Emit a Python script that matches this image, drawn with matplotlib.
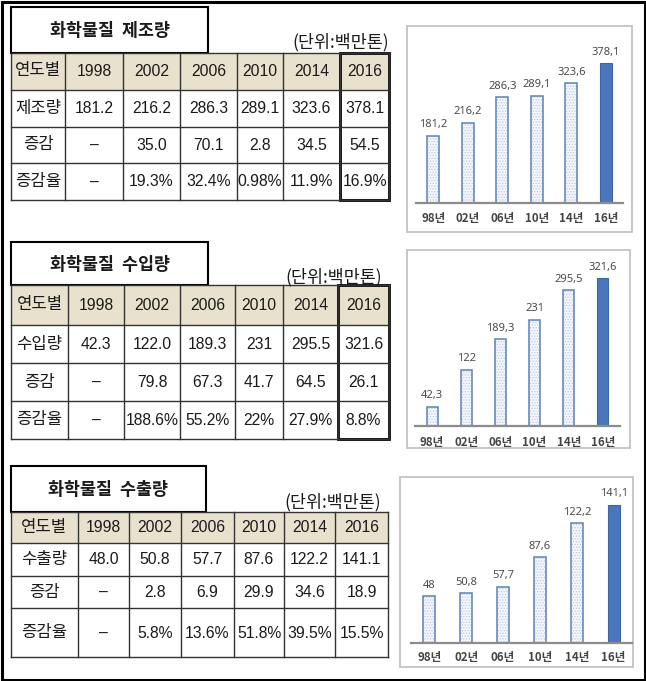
import matplotlib
matplotlib.use("Agg")
import matplotlib.pyplot as plt
from matplotlib.patches import Rectangle
from matplotlib import font_manager

plt.rcParams['hatch.linewidth'] = 0.6

# ---------------- data ----------------
years = ["1998", "2002", "2006", "2010", "2014", "2016"]
short_years = ["98년", "02년", "06년", "10년", "14년", "16년"]

title1 = "화학물질  제조량"
title2 = "화학물질  수입량"
title3 = "화학물질  수출량"
unit_label = "(단위:백만톤)"
row_head = "연도별"
row_labels1 = ["제조량", "증감", "증감율"]
row_labels2 = ["수입량", "증감", "증감율"]
row_labels3 = ["수출량", "증감", "증감율"]

production = [181.2, 216.2, 286.3, 289.1, 323.6, 378.1]
imports = [42.3, 122.0, 189.3, 231, 295.5, 321.6]
exports = [48.0, 50.8, 57.7, 87.6, 122.2, 141.1]

prod_text = ["181.2", "216.2", "286.3", "289.1", "323.6", "378.1"]
prod_change = ["–", "35.0", "70.1", "2.8", "34.5", "54.5"]
prod_rate = ["–", "19.3%", "32.4%", "0.98%", "11.9%", "16.9%"]

imp_text = ["42.3", "122.0", "189.3", "231", "295.5", "321.6"]
imp_change = ["–", "79.8", "67.3", "41.7", "64.5", "26.1"]
imp_rate = ["–", "188.6%", "55.2%", "22%", "27.9%", "8.8%"]

exp_text = ["48.0", "50.8", "57.7", "87.6", "122.2", "141.1"]
exp_change = ["–", "2.8", "6.9", "29.9", "34.6", "18.9"]
exp_rate = ["–", "5.8%", "13.6%", "51.8%", "39.5%", "15.5%"]

# ---------------- fonts ----------------
avail = {f.name for f in font_manager.fontManager.ttflist}
KR = "Noto Sans CJK KR"
NUM = ["Liberation Sans Narrow", KR] if "Liberation Sans Narrow" in avail else ["Liberation Sans", KR]
num_size = 13 if "Liberation Sans Narrow" in avail else 11.3

W, H = 646, 681
fig = plt.figure(figsize=(W / 100, H / 100), dpi=100)
bg = fig.add_axes([0, 0, 1, 1], zorder=0)
bg.set_xlim(0, W)
bg.set_ylim(H, 0)
bg.axis("off")

# outer border
bg.add_patch(Rectangle((1.5, 1.5), W - 3, H - 3, fill=False, ec="black", lw=2.2))

HEAD_FC = "#E8E1CD"


def draw_table(cols, rows, title_box, unit_xy, title, labels, body, thick_last):
    # title box
    tx0, ty0, tx1, ty1 = title_box
    bg.add_patch(Rectangle((tx0, ty0), tx1 - tx0, ty1 - ty0, fill=False, ec="black", lw=1.5))
    bg.text((tx0 + tx1) / 2, (ty0 + ty1) / 2 + 1, title, ha="center", va="center",
            family=[KR], fontsize=12.5, weight="bold", color="#1a1a1a")
    bg.text(unit_xy[0], unit_xy[1], unit_label, ha="right", va="center",
            family=[KR], fontsize=12.5, color="#1a1a1a")
    # header fill
    bg.add_patch(Rectangle((cols[0], rows[0]), cols[-1] - cols[0], rows[1] - rows[0],
                           fc=HEAD_FC, ec="none"))
    # grid lines
    for y in rows:
        bg.plot([cols[0], cols[-1]], [y, y], color="#333333", lw=1.0)
    for x in cols:
        bg.plot([x, x], [rows[0], rows[-1]], color="#333333", lw=1.0)
    if thick_last:
        bg.add_patch(Rectangle((cols[-2], rows[0]), cols[-1] - cols[-2], rows[-1] - rows[0],
                               fill=False, ec="black", lw=2.0))
    all_labels = [row_head] + labels
    all_body = [years] + body
    for r in range(4):
        cy = (rows[r] + rows[r + 1]) / 2
        bg.text((cols[0] + cols[1]) / 2, cy, all_labels[r], ha="center", va="center",
                family=[KR], fontsize=12, color="#1a1a1a")
        for c in range(6):
            cx = (cols[c + 1] + cols[c + 2]) / 2
            bg.text(cx, cy + 0.5, all_body[r][c], ha="center", va="center",
                    family=NUM, fontsize=num_size, color="#1a1a1a")


draw_table([11, 65, 123, 180, 237, 283, 340, 389], [52.5, 89.5, 127, 163, 200],
           (11, 7, 208, 52.5), (389, 42), title1, row_labels1,
           [prod_text, prod_change, prod_rate], True)
draw_table([11, 68, 124, 180, 235, 283, 338, 389], [285, 325, 363, 401, 438.5],
           (11, 242, 208, 285), (382, 277), title2, row_labels2,
           [imp_text, imp_change, imp_rate], True)
draw_table([11, 78, 129, 181, 234, 284, 335, 388], [512, 543, 576, 608, 657],
           (11, 466, 206, 512), (381, 502), title3, row_labels3,
           [exp_text, exp_change, exp_rate], False)


def draw_chart(panel, ax_x0, ax_x1, base_y, top_y, ymax, values, bar_w, tick_pad):
    px0, py0, px1, py1 = panel
    bg.add_patch(Rectangle((px0, py0), px1 - px0, py1 - py0, fc="white", ec="#BDBDBD", lw=1.2))
    ax = fig.add_axes([ax_x0 / W, 1 - base_y / H, (ax_x1 - ax_x0) / W, (base_y - top_y) / H],
                      zorder=2)
    ax.set_facecolor("none")
    ax.set_xlim(-0.5, 5.5)
    ax.set_ylim(0, ymax)
    x = list(range(6))
    light = values[:-1]
    ax.bar(x[:-1], light, width=bar_w, color="#F4F7FC", edgecolor="#B9C9E2",
           hatch="......", linewidth=0)
    ax.bar(x[:-1], light, width=bar_w, color="none", edgecolor="#5E80B6", linewidth=1.1)
    ax.bar(x[-1], values[-1], width=bar_w, color="#4A77BC", edgecolor="#3E66A6", linewidth=0.8)
    for xi, v in zip(x, values):
        ax.annotate(f"{v:g}".replace(".", ","), (xi, v), xytext=(0, 4),
                    textcoords="offset points", ha="center", va="bottom",
                    fontsize=8, family=["Noto Sans"], color="#4a4a4a")
    for s in ["top", "right", "left"]:
        ax.spines[s].set_visible(False)
    ax.spines["bottom"].set_color("#8C8C8C")
    ax.spines["bottom"].set_linewidth(1.6)
    ax.set_yticks([])
    ax.set_xticks(x)
    ax.set_xticklabels(short_years, family=[KR], fontsize=8.3, weight="bold", color="#444444")
    ax.tick_params(axis="x", length=0, pad=tick_pad)
    return ax


draw_chart((407, 26, 632, 232), 416, 623, 203, 40, 163 / 0.370, production, 0.35, 6.5)
draw_chart((407, 250, 630, 448), 415, 620, 426, 260, 166 / 0.459, imports, 0.32, 7.5)
draw_chart((400, 477, 633, 667), 411, 632, 643, 487, 156 / 0.978, exports, 0.33, 5.5)

fig.savefig("out.png", dpi=100)
